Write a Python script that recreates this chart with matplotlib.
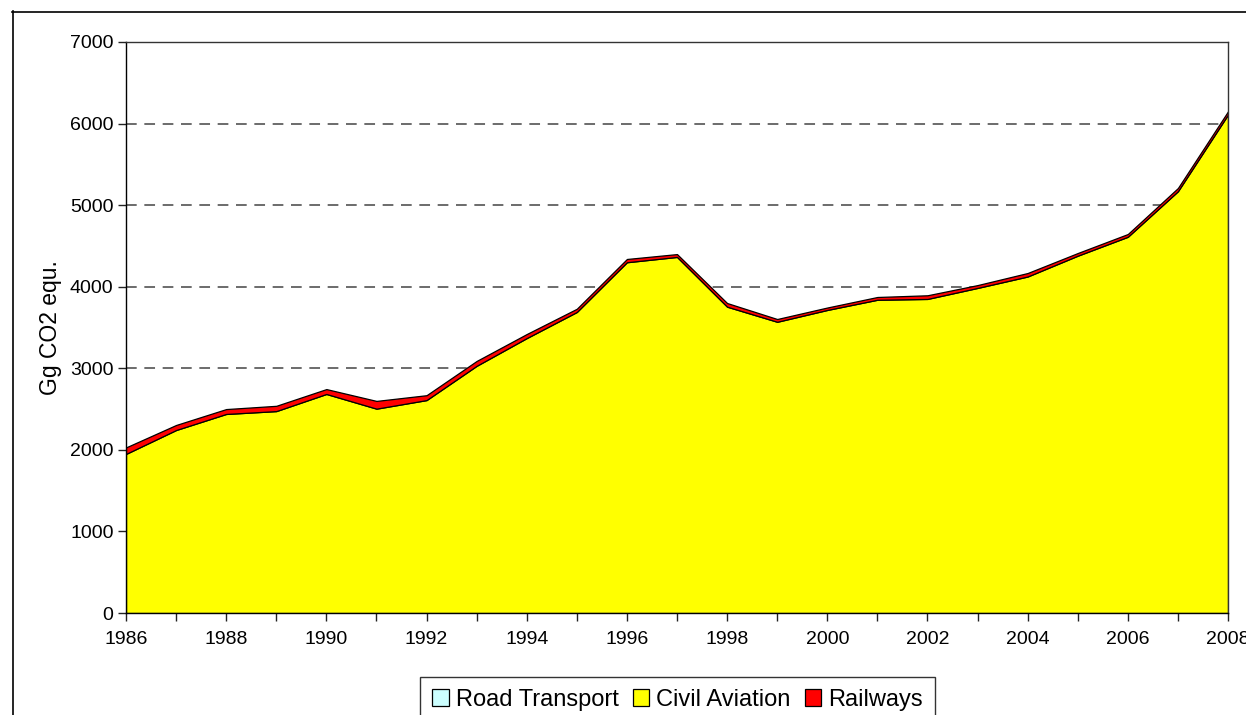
import matplotlib
matplotlib.use("Agg")
import matplotlib.pyplot as plt
from matplotlib.patches import Patch
from matplotlib.lines import Line2D

plt.rcParams['font.family'] = ['Liberation Sans', 'DejaVu Sans']

years = list(range(1986, 2009))
road_transport = [0] * 23
civil_aviation = [1950, 2243, 2440, 2475, 2685, 2505, 2610, 3030, 3370, 3690,
                  4300, 4365, 3755, 3570, 3715, 3840, 3850, 3985, 4125, 4380,
                  4612, 5170, 6110]
railways = [80, 62, 60, 65, 60, 95, 60, 60, 50, 40,
            40, 35, 45, 34, 30, 34, 45, 35, 43, 33,
            34, 40, 40]
series_names = ["Road Transport", "Civil Aviation", "Railways"]
series_colors = ["#CCFFFF", "#FFFF00", "#FF0000"]
y_ticks = [0, 1000, 2000, 3000, 4000, 5000, 6000, 7000]
x_ticks = list(range(1986, 2009, 2))

fig = plt.figure(figsize=(12.46, 7.15), dpi=100)
ax = fig.add_axes([126/1246, 1-613/715, (1228-126)/1246, (613-42)/715])

for v in y_ticks[1:-1]:
    ax.axhline(v, color="#444444", linestyle=(0, (7, 5)), linewidth=1.1, zorder=0)

ax.stackplot(years, road_transport, civil_aviation, railways,
             colors=series_colors, edgecolor="black", linewidth=0.9, zorder=2)

ax.set_xlim(1986, 2008)
ax.set_ylim(0, 7000)
ax.set_yticks(y_ticks)
ax.set_yticklabels([str(v) for v in y_ticks], fontsize=14)
ax.set_xticks(years, minor=False)
ax.set_xticklabels([str(y) if y in x_ticks else "" for y in years], fontsize=14)
ax.tick_params(axis='both', direction='out', length=6, width=1, color="#222222", pad=3)
ax.tick_params(axis='x', pad=7)
for s in ax.spines.values():
    s.set_color("#333333")
    s.set_linewidth(1.0)
ax.spines['left'].set_color("black")
ax.spines['bottom'].set_color("black")
ax.set_ylabel("Gg CO2 equ.", fontsize=16.5, labelpad=6)

# outer frame
fig.add_artist(Line2D([12.5/1246, 12.5/1246], [0, 1-11/715], transform=fig.transFigure,
                      color="black", linewidth=1.2))
fig.add_artist(Line2D([12/1246, 1], [1-11.5/715, 1-11.5/715], transform=fig.transFigure,
                      color="black", linewidth=1.2))

handles = [Patch(facecolor=c, edgecolor="black", linewidth=0.9) for c in series_colors]
leg = fig.legend(handles, series_names, loc="upper center", ncol=3,
                 bbox_to_anchor=(677.5/1246, 1-677/715), frameon=True, fancybox=False,
                 fontsize=17, handlelength=0.7, handleheight=0.7, handletextpad=0.3,
                 columnspacing=0.6, borderpad=0.5, borderaxespad=0)
leg.get_frame().set_edgecolor("black")
leg.get_frame().set_linewidth(1.0)

fig.savefig("out.png", dpi=100)
